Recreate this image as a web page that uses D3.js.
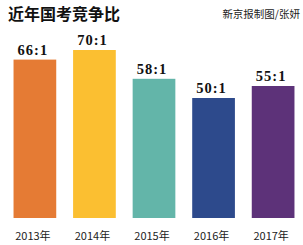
<!DOCTYPE html>
<html><head><meta charset="utf-8">
<script src="https://cdn.jsdelivr.net/npm/d3@7"></script>
<style>body{margin:0;background:#fff;}svg{display:block;}</style>
</head><body>
<script>
const categories = ["2013年","2014年","2015年","2016年","2017年"];
const values = [66, 70, 58, 50, 55];
const valueLabels = ["66:1","70:1","58:1","50:1","55:1"];
const colors = ["#E57B34","#FBBF31","#63B5A9","#2D4A8C","#5D3279"];
const title = "近年国考竞争比";
const credit = "新京报制图/张妍";

const W = 303, H = 245;
const svg = d3.select("body").append("svg").attr("width", W).attr("height", H);

const x = d3.scaleBand().domain(categories).range([4, 304]).paddingInner(0.283).paddingOuter(0.16);
const y = d3.scaleLinear().domain([0, 70]).range([218, 50]);

svg.append("text").attr("x", 8).attr("y", 20)
  .attr("font-family", "Noto Sans CJK SC").attr("font-weight", 700).attr("font-size", 16)
  .attr("fill", "#111").text(title);
svg.append("text").attr("x", 300).attr("y", 17.5).attr("text-anchor", "end")
  .attr("font-family", "Noto Sans CJK SC").attr("font-size", 10.5)
  .attr("fill", "#222").text(credit);

svg.selectAll("rect.bar").data(values).join("rect").attr("class", "bar")
  .attr("x", (d, i) => x(categories[i]))
  .attr("width", x.bandwidth())
  .attr("y", d => y(d))
  .attr("height", d => y(0) - y(d))
  .attr("fill", (d, i) => colors[i]);

svg.selectAll("text.val").data(values).join("text").attr("class", "val")
  .attr("x", (d, i) => x(categories[i]) + x.bandwidth() / 2 - 2)
  .attr("y", d => y(d) - 5)
  .attr("text-anchor", "middle")
  .attr("font-family", "Liberation Serif").attr("font-weight", 700).attr("font-size", 14.5)
  .attr("letter-spacing", 1)
  .attr("fill", "#111")
  .text((d, i) => valueLabels[i]);

const xAxis = d3.axisBottom(x).tickSize(0).tickPadding(0);
const g = svg.append("g").attr("transform", "translate(-2,232)").call(xAxis);
g.select(".domain").remove();
g.selectAll("text").attr("font-family", "Noto Sans CJK SC").attr("font-size", 11)
  .attr("fill", "#222");
</script>
</body></html>
